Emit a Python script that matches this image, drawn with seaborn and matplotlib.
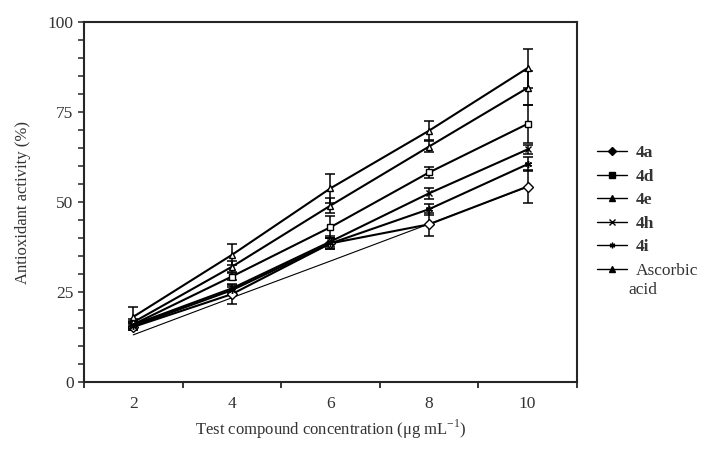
import numpy as np
import pandas as pd
import matplotlib
matplotlib.use('Agg')
import matplotlib.pyplot as plt
from matplotlib.lines import Line2D
import seaborn as sns

# ----------------------------------------------------------------------------
# values
conc = [2, 4, 6, 8, 10]
series_names = ['4a', '4d', '4e', '4h', '4i', 'Ascorbic\nacid']

act_4a = [15.3, 24.4, 38.5, 43.8, 54.3]
act_4d = [16.0, 29.3, 43.0, 58.2, 71.7]
act_4e = [16.6, 32.0, 49.0, 65.4, 81.7]
act_4h = [15.9, 26.0, 39.0, 52.4, 64.6]
act_4i = [15.5, 25.5, 38.5, 48.0, 60.5]
act_asc = [18.1, 35.3, 53.8, 69.8, 87.2]

err_4a = [0.8, 2.8, 1.5, 3.2, 4.5]
err_4d = [1.0, 1.0, 3.0, 1.5, 5.3]
err_4e = [1.0, 1.5, 2.1, 1.5, 4.8]
err_4h = [0.8, 1.0, 1.5, 1.5, 1.2]
err_4i = [1.0, 1.0, 1.5, 1.5, 2.0]
err_asc = [2.8, 2.9, 4.0, 2.7, 5.4]

# thin straight line that runs under the data lines
trend_line = [13.1, 23.4, 33.6, 43.9, 54.2]

# ----------------------------------------------------------------------------
activities = [act_4a, act_4d, act_4e, act_4h, act_4i, act_asc]
errors = [err_4a, err_4d, err_4e, err_4h, err_4i, err_asc]
plot_markers = ['D', 's', '^', 'x', (6, 2, 0), '^']
legend_markers = ['D', 's', '^', 'x', (6, 2, 0), '^']

df = pd.DataFrame({
    'conc': conc * len(series_names),
    'activity': sum(activities, []),
    'err': sum(errors, []),
    'compound': [n for n in series_names for _ in conc],
})

sns.set_style('ticks')
plt.rcParams['font.family'] = ['Liberation Serif', 'DejaVu Serif']
plt.rcParams['mathtext.fontset'] = 'custom'
plt.rcParams['mathtext.rm'] = 'Liberation Serif'

fig = plt.figure(figsize=(7.27, 4.5), dpi=100)
ax = fig.add_axes([0.1155, 0.1511, 0.678, 0.80])

ax.plot(conc, trend_line, color='black', lw=0.8, zorder=1)

for name, mk in zip(series_names, plot_markers):
    sub = df[df['compound'] == name]
    ax.errorbar(sub['conc'], sub['activity'], yerr=sub['err'], fmt='none',
                ecolor='black', elinewidth=1.1, capsize=3.5, capthick=1.1,
                zorder=2)
    filled = mk in ('x', (6, 2, 0))
    sns.lineplot(data=sub, x='conc', y='activity', ax=ax, color='black',
                 lw=1.5, marker=mk, markersize=5,
                 markerfacecolor='black' if filled else 'white',
                 markeredgecolor='black', markeredgewidth=1.0,
                 legend=False, zorder=3)

ax.set_xlim(1, 11)
ax.set_ylim(0, 100)
ax.set_xticks([1, 3, 5, 7, 9, 11])
ax.set_xticklabels([])
ax.set_xticks(conc, minor=True)
ax.set_xticklabels([str(c) for c in conc], minor=True)
ax.tick_params(axis='x', which='minor', length=0, pad=10)
ax.tick_params(axis='x', which='major', length=4, width=1.3, direction='out')
ax.set_yticks([0, 25, 50, 75, 100])
ax.set_yticks(np.arange(0, 101, 5), minor=True)
ax.tick_params(axis='y', which='both', length=4, width=1.1, direction='out')
ax.tick_params(axis='both', which='both', labelsize=12.5, labelcolor='#333333')

for sp in ax.spines.values():
    sp.set_linewidth(1.5)
    sp.set_visible(True)

ax.set_xlabel('Test compound concentration (\u03bcg mL$^{-1}$)', fontsize=12,
              color='#333333', labelpad=4)
ax.set_ylabel('Antioxidant activity (%)', fontsize=12, color='#333333',
              labelpad=12)

# legend: the last label wraps onto a second line below its handle
legend_labels = ['4a', '4d', '4e', '4h', '4i', 'Ascorbic']
handles = [Line2D([0], [0], color='black', lw=1.0, marker=m, markersize=4,
                  markerfacecolor='black', markeredgecolor='black')
           for m in legend_markers]
leg = fig.legend(handles, legend_labels, loc='upper left',
                 bbox_to_anchor=(0.80, 0.712), frameon=False, fontsize=12.5,
                 handlelength=1.7, labelspacing=0.42, handletextpad=0.5)
for txt in leg.get_texts()[:5]:
    txt.set_fontweight('bold')
for txt in leg.get_texts():
    txt.set_color('#333333')
fig.text(0.864, 0.356, 'acid', fontsize=12.5, color='#333333',
         va='center', ha='left')

fig.savefig('out.png', dpi=100)
